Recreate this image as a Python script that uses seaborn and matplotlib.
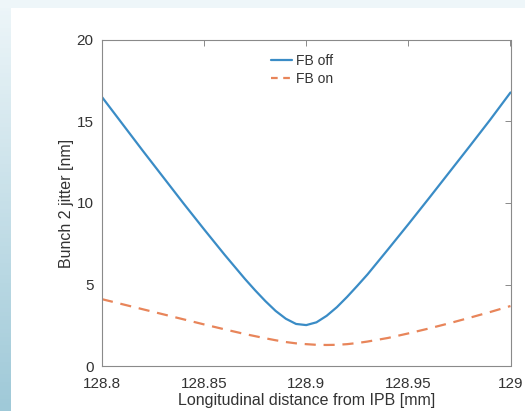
import numpy as np
import pandas as pd
import matplotlib
matplotlib.use("Agg")
from matplotlib import pyplot as plt
import seaborn as sns

pos_off = [128.80, 128.81, 128.82, 128.83, 128.84, 128.85, 128.86, 128.87, 128.875,
           128.88, 128.885, 128.89, 128.895, 128.90, 128.905, 128.91, 128.915, 128.92,
           128.925, 128.93, 128.94, 128.95, 128.96, 128.97, 128.98, 128.99, 129.00]
jitter_off = [16.5, 14.85, 13.2, 11.58, 9.96, 8.38, 6.83, 5.34, 4.64,
              3.98, 3.38, 2.9, 2.58, 2.51, 2.68, 3.08, 3.61, 4.24,
              4.92, 5.62, 7.15, 8.7, 10.28, 11.88, 13.48, 15.1, 16.78]

pos_on = [128.80, 128.82, 128.84, 128.85, 128.86, 128.87, 128.88, 128.885, 128.89,
          128.895, 128.90, 128.905, 128.91, 128.915, 128.92, 128.925, 128.93, 128.94,
          128.95, 128.96, 128.97, 128.98, 128.99, 129.00]
jitter_on = [4.1, 3.48, 2.86, 2.55, 2.25, 1.96, 1.70, 1.58, 1.47,
             1.39, 1.34, 1.30, 1.29, 1.30, 1.34, 1.41, 1.50, 1.72,
             2.0, 2.3, 2.62, 2.96, 3.31, 3.68]

x_ticks = [128.8, 128.85, 128.9, 128.95, 129]
x_tick_labels = ["128.8", "128.85", "128.9", "128.95", "129"]
y_ticks = [0, 5, 10, 15, 20]

sns.set_style("white")
plt.rcParams['font.family'] = ['Liberation Sans', 'DejaVu Sans']

df_off = pd.DataFrame({'pos': pos_off, 'jitter': jitter_off})
df_on = pd.DataFrame({'pos': pos_on, 'jitter': jitter_on})

fig = plt.figure(figsize=(5.25, 4.11), dpi=100)
fig.patch.set_facecolor('white')

# slide background: pale top strip and blue gradient down the left edge
bg = fig.add_axes([0, 0, 1, 1], zorder=-10)
bg.set_xlim(0, 1)
bg.set_ylim(0, 1)
bg.axis('off')
bg.axhspan(1 - 8 / 411, 1, color='#eef6f9', lw=0)
grad = np.linspace(0, 1, 100).reshape(-1, 1)
bg.imshow(grad, extent=[0, 10 / 525, 0, 1], aspect='auto', origin='lower',
          cmap=matplotlib.colors.LinearSegmentedColormap.from_list('g', ['#9fc9d8', '#eef6f9']))

ax = fig.add_axes([102 / 525, 45 / 411, 408.5 / 525, 326 / 411])
sns.lineplot(data=df_off, x='pos', y='jitter', ax=ax, color='#3a8cc6', lw=1.6, label='FB off')
sns.lineplot(data=df_on, x='pos', y='jitter', ax=ax, color='#e8855a', lw=1.6, label='FB on')
ax.lines[1].set_dashes((5, 3.5))

ax.set_xlim(128.8, 129.0)
ax.set_ylim(0, 20)
ax.set_xticks(x_ticks)
ax.set_xticklabels(x_tick_labels)
ax.set_yticks(y_ticks)
ax.tick_params(direction='in', length=4, width=0.6, color='#777777', labelsize=11,
               labelcolor='#333333', top=True, right=True)
ax.tick_params(axis='x', pad=8)
ax.tick_params(axis='y', pad=6)
for s in ax.spines.values():
    s.set_color('#8a8a8a')
    s.set_linewidth(0.8)

ax.set_xlabel('Longitudinal distance from IPB [mm]', fontsize=11.5, color='#333333', labelpad=1)
ax.set_ylabel('Bunch 2 jitter [nm]', fontsize=11.5, color='#333333', labelpad=2)

leg = ax.legend(loc='upper center', frameon=False, fontsize=10, handlelength=1.5,
                handletextpad=0.3, labelspacing=0.3, bbox_to_anchor=(0.49, 0.995))
leg.get_lines()[1].set_dashes((3, 2.5))
for t in leg.get_texts():
    t.set_color('#333333')

fig.savefig('out.png', dpi=100)
